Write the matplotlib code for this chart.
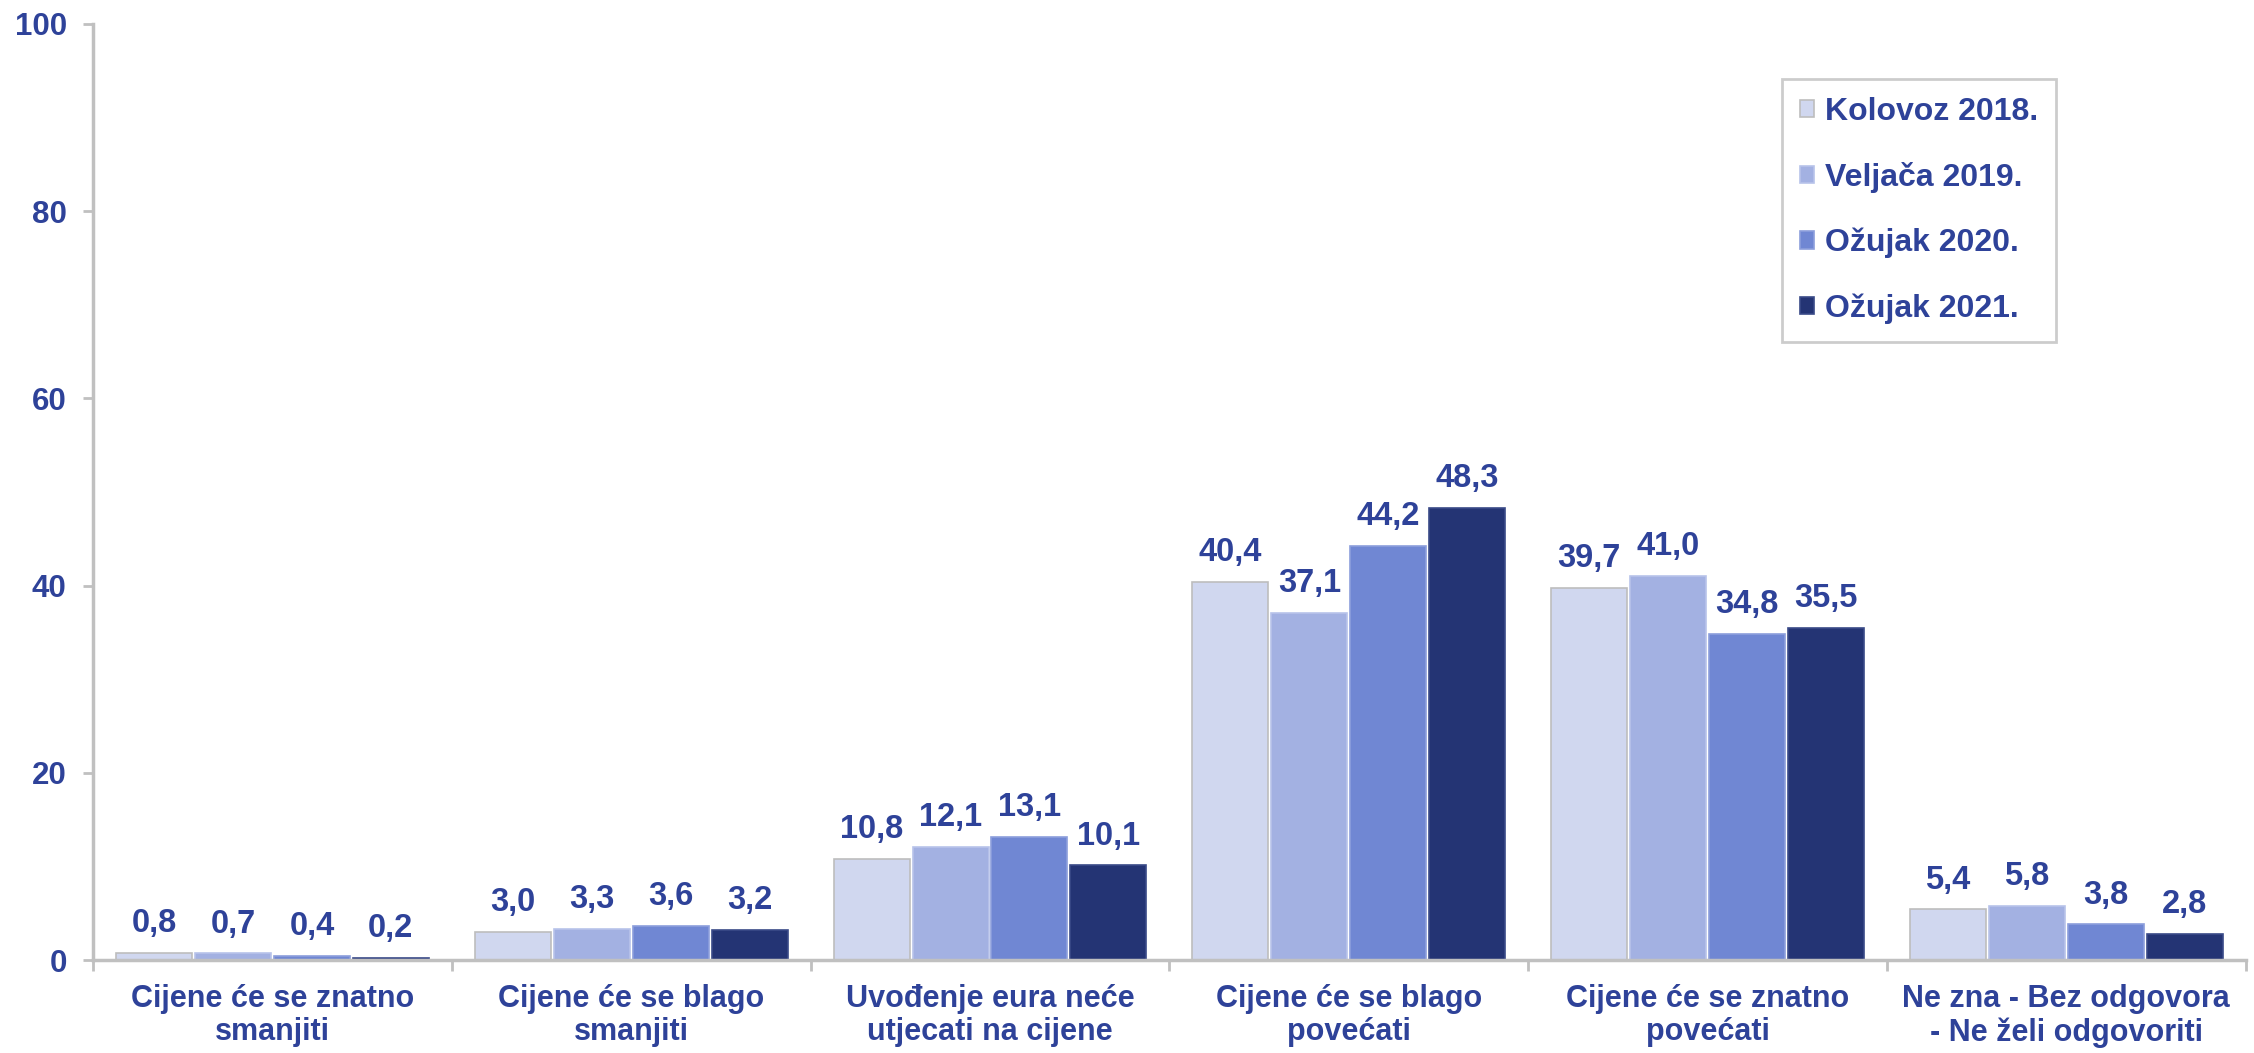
import matplotlib
matplotlib.use('Agg')
import matplotlib.pyplot as plt
import numpy as np

plt.rcParams['font.family'] = ['Liberation Sans', 'DejaVu Sans']
plt.rcParams['font.weight'] = 'bold'

categories = ['Cijene će se znatno\nsmanjiti', 'Cijene će se blago\nsmanjiti',
              'Uvođenje eura neće\nutjecati na cijene', 'Cijene će se blago\npovećati',
              'Cijene će se znatno\npovećati', 'Ne zna - Bez odgovora\n- Ne želi odgovoriti']
series = ['Kolovoz 2018.', 'Veljača 2019.', 'Ožujak 2020.', 'Ožujak 2021.']
kol2018 = [0.8, 3.0, 10.8, 40.4, 39.7, 5.4]
velj2019 = [0.7, 3.3, 12.1, 37.1, 41.0, 5.8]
ozu2020 = [0.4, 3.6, 13.1, 44.2, 34.8, 3.8]
ozu2021 = [0.2, 3.2, 10.1, 48.3, 35.5, 2.8]

colors = ['#D0D7EF', '#A3B1E2', '#7087D3', '#243474']
edges = ['#BDBDBD', '#B8C3EA', '#8C9EDC', '#3A4A88']
txt = '#2E4299'
grid = '#C0C0C0'

fig = plt.figure(figsize=(22.54, 10.53), dpi=100)
ax = fig.add_axes([0.0413, 0.0883, 0.955, 0.889])

x = np.arange(len(categories))
step = 0.22
w = 0.212
data = [kol2018, velj2019, ozu2020, ozu2021]
for i, vals in enumerate(data):
    pos = x + (i - 1.5) * step
    bars = ax.bar(pos, vals, w, color=colors[i], edgecolor=edges[i], linewidth=1.2, label=series[i])
    for b, v in zip(bars, vals):
        ax.annotate(('%.1f' % v).replace('.', ','), (b.get_x() + b.get_width() / 2, v),
                    xytext=(0, 10), textcoords='offset points', ha='center', va='bottom',
                    fontsize=23.5, color=txt, fontweight='bold')

ax.set_xlim(-0.5, 5.5)
ax.set_ylim(0, 100)
ax.set_yticks(np.arange(0, 101, 20))
ax.tick_params(axis='y', colors=grid, labelcolor=txt, labelsize=22.5, length=7, width=2, pad=12)
ax.set_xticks(np.arange(-0.5, 5.6, 1))
ax.set_xticklabels([])
ax.tick_params(axis='x', which='major', colors=grid, length=8, width=2)
ax.set_xticks(x, minor=True)
ax.set_xticklabels(categories, minor=True, fontsize=22, color=txt, fontweight='bold',
                   linespacing=1.15)
ax.tick_params(axis='x', which='minor', length=0, pad=17)

for s in ['top', 'right']:
    ax.spines[s].set_visible(False)
for s in ['left', 'bottom']:
    ax.spines[s].set_color(grid)
    ax.spines[s].set_linewidth(2.5)

leg = fig.legend(loc='upper left', bbox_to_anchor=(0.7906, 0.925), fontsize=23,
                 frameon=True, fancybox=False, edgecolor=grid, labelspacing=1.1,
                 handlelength=0.45, handleheight=0.45, handletextpad=0.35,
                 borderpad=0.55, borderaxespad=0)
leg.get_frame().set_linewidth(2)
for t in leg.get_texts():
    t.set_color(txt)

fig.savefig('out.png', dpi=100)
